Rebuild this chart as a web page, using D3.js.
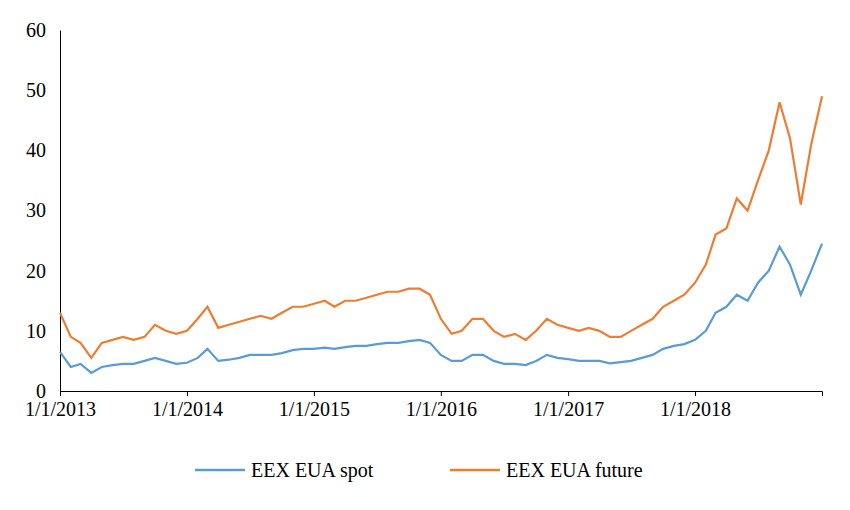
<!DOCTYPE html>
<html><head><meta charset="utf-8">
<script src="https://cdn.jsdelivr.net/npm/d3@7"></script>
<style>body{margin:0;background:#fff}text{font-family:"Liberation Serif",serif}</style>
</head><body><svg width="850" height="510"></svg>
<script>
// monthly readings, Jan 2013 .. Dec 2018, plus year-end close
let months = d3.range(0, 73).map(i => new Date(2013, i, 1));
let futureVals = [13,9,8,5.5,8,8.5,9,8.5,9,11,10,9.5,
  10,12,14,10.5,11,11.5,12,12.5,12,13,14,14,
  14.5,15,14,15,15,15.5,16,16.5,16.5,17,17,16,
  12,9.5,10,12,12,10,9,9.5,8.5,10,12,11,
  10.5,10,10.5,10,9,9,10,11,12,14,15,16,
  18,21,26,27,32,30,35,40,48,42,31,41,49];
let spotVals = [6.5,4,4.5,3,4,4.3,4.5,4.5,5,5.5,5,4.5,
  4.7,5.5,7,5,5.2,5.5,6,6,6,6.3,6.8,7,
  7,7.2,7,7.3,7.5,7.5,7.8,8,8,8.3,8.5,8,
  6,5,5,6,6,5,4.5,4.5,4.3,5,6,5.5,
  5.3,5,5,5,4.6,4.8,5,5.5,6,7,7.5,7.8,
  8.5,10,13,14,16,15,18,20,24,21,16,20,24.5];
let yTicks = [0,10,20,30,40,50,60];
let xTicks = [2013,2014,2015,2016,2017,2018].map(y => new Date(y,0,1));
let seriesNames = ['EEX EUA spot','EEX EUA future'];
let colors = ['#5b9bd5','#ed7d31'];

let svg = d3.select('svg');
let x = d3.scaleTime().domain([new Date(2013,0,1), new Date(2019,0,1)]).range([60,822]);
let y = d3.scaleLinear().domain([0,60]).range([391,30]);

let yAxis = svg.append('g').attr('transform','translate(60,0)')
  .call(d3.axisLeft(y).tickValues(yTicks).tickSize(0).tickPadding(14));
yAxis.select('.domain').attr('stroke','#000');
yAxis.selectAll('text').attr('font-size',20).attr('fill','#000');

let xAxis = svg.append('g').attr('transform','translate(0,391)')
  .call(d3.axisBottom(x).tickValues(xTicks).tickSizeOuter(0).tickSize(5).tickPadding(6)
    .tickFormat(d3.timeFormat('%-m/%-d/%Y')));
xAxis.selectAll('text').attr('font-size',20).attr('fill','#000');

let line = d3.line().x((d,i) => x(months[i])).y(d => y(d));
[spotVals, futureVals].forEach((vals,k) => {
  svg.append('path').datum(vals).attr('d', line)
    .attr('fill','none').attr('stroke', colors[k]).attr('stroke-width', 2.2);
});

let leg = svg.append('g').attr('transform','translate(195,470)');
seriesNames.forEach((n,k) => {
  let g = leg.append('g').attr('transform', `translate(${k*255},0)`);
  g.append('line').attr('x1',0).attr('x2',50).attr('stroke',colors[k]).attr('stroke-width',2.5);
  g.append('text').attr('x',56).attr('dy','0.35em').attr('font-size',20).text(n);
});
</script></body></html>
